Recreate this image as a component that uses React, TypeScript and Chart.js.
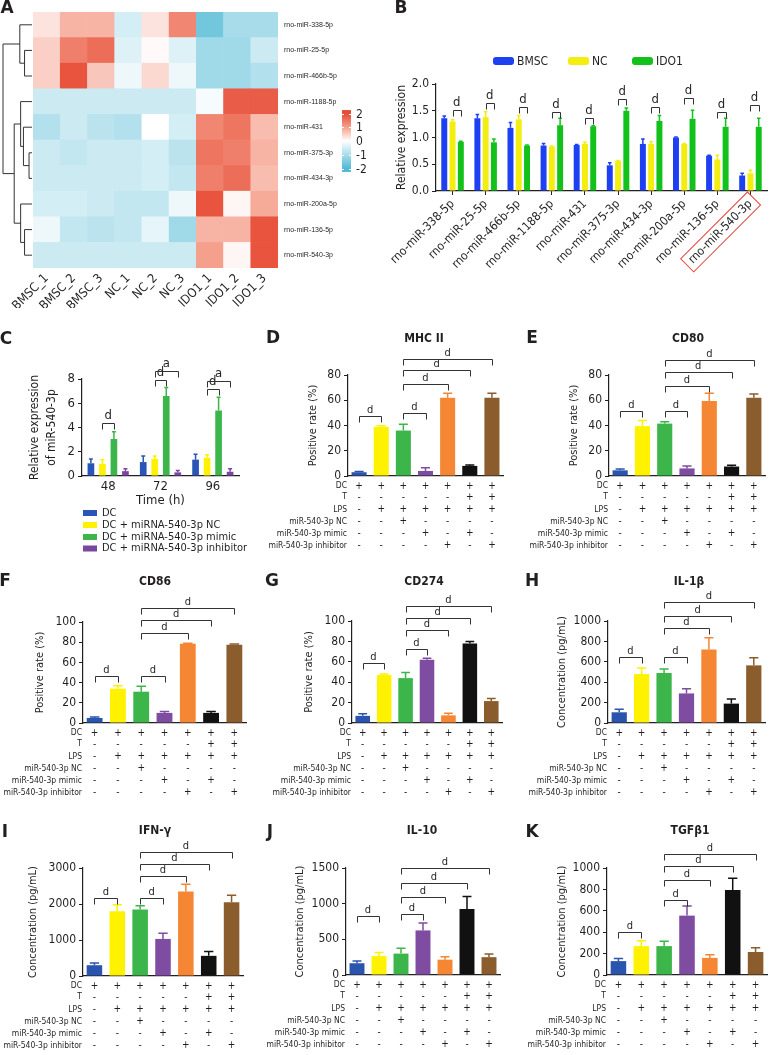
import React, { useEffect, useRef } from "react";
import { Chart, registerables } from "chart.js";

Chart.register(...registerables);

const PAGE_W = 771;
const PAGE_H = 1055;
const FONT = '"DejaVu Sans Condensed", "DejaVu Sans", sans-serif';
const ARIAL = '"Liberation Sans", Arial, sans-serif';
const TEXT = "#231f20";
const AXIS = "#231f20";

// ---------------- Panel A: heatmap ----------------
const heatSamples = ["BMSC_1", "BMSC_2", "BMSC_3", "NC_1", "NC_2", "NC_3", "IDO1_1", "IDO1_2", "IDO1_3"];
const heatMirnas = [
  "rno-miR-338-5p", "rno-miR-25-5p", "rno-miR-466b-5p", "rno-miR-1188-5p", "rno-miR-431",
  "rno-miR-375-3p", "rno-miR-434-3p", "rno-miR-200a-5p", "rno-miR-136-5p", "rno-miR-540-3p",
];
const heat338 = [0.3, 0.8, 0.8, -0.5, 0.3, 1.3, -1.6, -1.0, -1.0];
const heat25 = [0.5, 1.4, 1.6, -0.4, 0.05, -0.4, -1.1, -1.1, -0.6];
const heat466b = [0.5, 1.9, 0.6, -0.2, 0.4, -0.2, -1.1, -1.1, -0.9];
const heat1188 = [-0.6, -0.6, -0.6, -0.6, -0.6, -0.6, -0.1, 1.8, 1.8];
const heat431 = [-0.9, -0.6, -0.8, -0.9, 0.0, -0.5, 1.3, 1.5, 0.7];
const heat375 = [-0.6, -0.7, -0.6, -0.6, -0.5, -0.8, 1.5, 1.4, 0.8];
const heat434 = [-0.6, -0.6, -0.6, -0.6, -0.5, -0.7, 1.4, 1.6, 0.7];
const heat200a = [-0.5, -0.5, -0.6, -0.7, -0.7, -0.2, 1.9, 0.1, 0.9];
const heat136 = [-0.2, -0.7, -0.8, -0.7, -0.3, -1.1, 0.8, 0.8, 1.9];
const heat540 = [-0.6, -0.6, -0.6, -0.6, -0.6, -0.6, 1.0, 0.1, 1.9];
const heatRowsZ = [heat338, heat25, heat466b, heat1188, heat431, heat375, heat434, heat200a, heat136, heat540];
// hierarchical clustering merges: [childA, childB, height]; leaves 0..9, new nodes from 10
const dendroMerges: [number, number, number][] = [
  [1, 2, 0.23],
  [0, 10, 0.4],
  [5, 6, 0.07],
  [4, 12, 0.27],
  [3, 13, 0.37],
  [8, 9, 0.23],
  [7, 15, 0.37],
  [14, 16, 0.6],
  [11, 17, 1.0],
];
const colorbarTicks = [2, 1, 0, -1, -2];
const HEAT_CELL = 1;

// ---------------- Panel B ----------------
const bCategories = [
  "rno-miR-338-5p", "rno-miR-25-5p", "rno-miR-466b-5p", "rno-miR-1188-5p", "rno-miR-431",
  "rno-miR-375-3p", "rno-miR-434-3p", "rno-miR-200a-5p", "rno-miR-136-5p", "rno-miR-540-3p",
];
const bSeriesNames = ["BMSC", "NC", "IDO1"];
const bBMSC = [1.36, 1.36, 1.18, 0.85, 0.86, 0.48, 0.88, 1.0, 0.66, 0.29];
const bBMSCErr = [0.04, 0.07, 0.1, 0.04, 0.01, 0.05, 0.09, 0.01, 0.01, 0.04];
const bNC = [1.3, 1.38, 1.34, 0.83, 0.88, 0.56, 0.88, 0.88, 0.59, 0.33];
const bNCErr = [0.03, 0.1, 0.07, 0.01, 0.03, 0.01, 0.04, 0.01, 0.08, 0.06];
const bIDO1 = [0.92, 0.91, 0.85, 1.23, 1.21, 1.5, 1.31, 1.35, 1.2, 1.2];
const bIDO1Err = [0.01, 0.06, 0.01, 0.13, 0.01, 0.05, 0.1, 0.16, 0.16, 0.16];
const bSigHeights = [1.51, 1.64, 1.57, 1.48, 1.36, 1.72, 1.57, 1.74, 1.48, 1.6];
const bSigLabel = "d";

// ---------------- Panel C ----------------
const cTimes = ["48", "72", "96"];
const cSeriesNames = ["DC", "DC + miRNA-540-3p NC", "DC + miRNA-540-3p mimic", "DC + miRNA-540-3p inhibitor"];
const cDC = [1.05, 1.15, 1.35];
const cDCErr = [0.35, 0.5, 0.45];
const cNC = [1.0, 1.4, 1.5];
const cNCErr = [0.35, 0.25, 0.25];
const cMimic = [3.05, 6.6, 5.4];
const cMimicErr = [0.6, 0.7, 1.1];
const cInhibitor = [0.4, 0.3, 0.35];
const cInhibitorErr = [0.2, 0.15, 0.25];
// [group, seriesA, seriesB, height, label]
const cBrackets: [number, number, number, number, string][] = [
  [0, 1, 2, 4.4, "d"],
  [1, 1, 2, 7.9, "d"],
  [1, 1, 3, 8.7, "a"],
  [2, 1, 2, 7.2, "d"],
  [2, 1, 3, 7.85, "a"],
];

// ---------------- Panels D-K ----------------
const treatmentRows = ["DC", "T", "LPS", "miR-540-3p NC", "miR-540-3p mimic", "miR-540-3p inhibitor"];
const treatDC = ["+", "+", "+", "+", "+", "+", "+"];
const treatT = ["-", "-", "-", "-", "-", "+", "+"];
const treatLPS = ["-", "+", "+", "+", "+", "+", "+"];
const treatNC = ["-", "-", "+", "-", "-", "-", "-"];
const treatMimic = ["-", "-", "-", "+", "-", "+", "-"];
const treatInhibitor = ["-", "-", "-", "-", "+", "-", "+"];
const treatmentTable = [treatDC, treatT, treatLPS, treatNC, treatMimic, treatInhibitor];
const groupIds = ["g1", "g2", "g3", "g4", "g5", "g6", "g7"];

const mhcII = [3, 39, 36, 4, 62, 8, 62];
const mhcIIErr = [0.6, 0.8, 5, 2.5, 3.5, 0.8, 3.5];
const mhcIIBrackets: [number, number, number][] = [[0, 1, 47.5], [2, 3, 50], [2, 4, 72.5], [2, 5, 84], [2, 6, 93]];

const cd80 = [4.5, 39.5, 41.5, 6, 59.5, 7.5, 62];
const cd80Err = [1, 4.5, 1.5, 2, 6, 1, 3];
const cd80Brackets: [number, number, number][] = [[0, 1, 51.7], [2, 3, 51.7], [2, 4, 71], [2, 5, 82], [2, 6, 92]];

const cd86 = [5, 34, 31, 10, 78.5, 10, 77.5];
const cd86Err = [1, 3, 5.5, 1.5, 0.5, 1.5, 0.8];
const cd86Brackets: [number, number, number][] = [[0, 1, 46.5], [2, 3, 46.5], [2, 4, 89], [2, 5, 101.6], [2, 6, 114]];

const cd274 = [7, 47, 44, 62, 7.5, 78, 21.5];
const cd274Err = [2, 1, 5.5, 1.5, 2, 2, 2.5];
const cd274Brackets: [number, number, number][] = [[0, 1, 59.3], [2, 3, 73], [2, 4, 91], [2, 5, 103], [2, 6, 114.7]];

const il1b = [105, 480, 490, 290, 720, 190, 565];
const il1bErr = [30, 60, 40, 45, 115, 45, 75];
const il1bBrackets: [number, number, number][] = [[0, 1, 643], [2, 3, 643], [2, 4, 928], [2, 5, 1052], [2, 6, 1184]];

const ifng = [300, 1800, 1850, 1030, 2350, 560, 2050];
const ifngErr = [60, 180, 100, 160, 200, 120, 190];
const ifngBrackets: [number, number, number][] = [[0, 1, 2180], [2, 3, 2180], [2, 4, 2768], [2, 5, 3113], [2, 6, 3448]];

const il10 = [165, 265, 300, 625, 215, 925, 250];
const il10Err = [30, 50, 75, 105, 40, 175, 45];
const il10Brackets: [number, number, number][] = [[0, 1, 834], [2, 3, 858], [2, 4, 1092], [2, 5, 1289], [2, 6, 1500]];

const tgfb1 = [130, 270, 270, 555, 160, 795, 215];
const tgfb1Err = [25, 50, 45, 90, 30, 110, 40];
const tgfb1Brackets: [number, number, number][] = [[0, 1, 400], [2, 3, 703], [2, 4, 890], [2, 5, 1016], [2, 6, 1134]];

// ---------------- Styles ----------------
const groupColors = ["#2a55ae", "#fff200", "#3cb64a", "#7e4ca0", "#f58634", "#111111", "#8b5d2c"];
const bColors = ["#1c40f2", "#f3ee10", "#12c21b"];
const cColors = ["#2a55b6", "#fff200", "#3cb64a", "#7a47a0"];
const tableOffsets = [10, 21, 33.5, 45.5, 57.5, 69.5];

type Box = { left: number; right: number; top: number; bottom: number; yTitleX: number; letter: [number, number]; title: [number, number] };
type BarPanel = {
  letter: string; title: string; yTitle: string; values: number[]; errors: number[];
  brackets: [number, number, number][]; max: number; step: number; box: Box;
};

const barPanels: BarPanel[] = [
  { letter: "D", title: "MHC II", yTitle: "Positive rate (%)", values: mhcII, errors: mhcIIErr, brackets: mhcIIBrackets, max: 80, step: 20,
    box: { left: 348, right: 503, top: 375, bottom: 476, yTitleX: 313, letter: [273, 339], title: [424, 339] } },
  { letter: "E", title: "CD80", yTitle: "Positive rate (%)", values: cd80, errors: cd80Err, brackets: cd80Brackets, max: 80, step: 20,
    box: { left: 609, right: 765, top: 375, bottom: 476, yTitleX: 574, letter: [532, 339], title: [688, 339] } },
  { letter: "F", title: "CD86", yTitle: "Positive rate (%)", values: cd86, errors: cd86Err, brackets: cd86Brackets, max: 100, step: 20,
    box: { left: 83, right: 246, top: 622, bottom: 723, yTitleX: 40, letter: [5, 582], title: [155, 582] } },
  { letter: "G", title: "CD274", yTitle: "Positive rate (%)", values: cd274, errors: cd274Err, brackets: cd274Brackets, max: 100, step: 20,
    box: { left: 352, right: 502, top: 621, bottom: 723, yTitleX: 309, letter: [272, 582], title: [424, 582] } },
  { letter: "H", title: "IL-1β", yTitle: "Concentration (pg/mL)", values: il1b, errors: il1bErr, brackets: il1bBrackets, max: 1000, step: 200,
    box: { left: 608, right: 765, top: 621, bottom: 723, yTitleX: 562, letter: [532, 582], title: [689, 582] } },
  { letter: "I", title: "IFN-γ", yTitle: "Concentration (pg/mL)", values: ifng, errors: ifngErr, brackets: ifngBrackets, max: 3000, step: 1000,
    box: { left: 83, right: 243, top: 868, bottom: 976, yTitleX: 33, letter: [5, 833], title: [155, 831] } },
  { letter: "J", title: "IL-10", yTitle: "Concentration (pg/mL)", values: il10, errors: il10Err, brackets: il10Brackets, max: 1500, step: 500,
    box: { left: 346, right: 500, top: 868, bottom: 975, yTitleX: 300, letter: [270, 833], title: [422, 831] } },
  { letter: "K", title: "TGFβ1", yTitle: "Concentration (pg/mL)", values: tgfb1, errors: tgfb1Err, brackets: tgfb1Brackets, max: 1000, step: 200,
    box: { left: 607, right: 767, top: 868, bottom: 975, yTitleX: 562, letter: [532, 833], title: [690, 831] } },
];

// ---------------- helpers ----------------
function hexToRgb(h: string) {
  const n = parseInt(h.slice(1), 16);
  return [(n >> 16) & 255, (n >> 8) & 255, n & 255];
}
const heatStops: [number, string][] = [[-2, "#4fb9d5"], [-1, "#a9dcea"], [0, "#ffffff"], [1, "#f5a08d"], [2, "#e64b35"]];
function heatColor(v: number) {
  const c = Math.max(-2, Math.min(2, v));
  for (let i = 0; i < heatStops.length - 1; i++) {
    const [a, ca] = heatStops[i];
    const [b, cb] = heatStops[i + 1];
    if (c >= a && c <= b) {
      const t = (c - a) / (b - a);
      const ra = hexToRgb(ca), rb = hexToRgb(cb);
      const r = ra.map((x, k) => Math.round(x + (rb[k] - x) * t));
      return `rgb(${r[0]},${r[1]},${r[2]})`;
    }
  }
  return "#fff";
}

function drawLetter(ctx: CanvasRenderingContext2D, s: string, x: number, y: number) {
  ctx.save();
  ctx.fillStyle = TEXT;
  ctx.font = `bold 17px "DejaVu Sans", sans-serif`;
  ctx.textAlign = "center";
  ctx.textBaseline = "middle";
  ctx.fillText(s, x, y);
  ctx.restore();
}

function drawBracket(ctx: CanvasRenderingContext2D, x1: number, x2: number, y: number, label: string, fs = 11, leg = 6) {
  const yy = Math.round(y) + 0.5;
  ctx.save();
  ctx.strokeStyle = "#333";
  ctx.lineWidth = 1;
  ctx.beginPath();
  ctx.moveTo(Math.round(x1) + 0.5, yy + leg);
  ctx.lineTo(Math.round(x1) + 0.5, yy);
  ctx.lineTo(Math.round(x2) + 0.5, yy);
  ctx.lineTo(Math.round(x2) + 0.5, yy + leg);
  ctx.stroke();
  ctx.fillStyle = TEXT;
  ctx.font = `${fs}px ${FONT}`;
  ctx.textAlign = "center";
  ctx.textBaseline = "bottom";
  ctx.fillText(label, (x1 + x2) / 2, yy - 1);
  ctx.restore();
}

function errorBarsPlugin(errs: number[][]) {
  return {
    id: "errbars",
    afterDatasetsDraw(chart: any) {
      const ctx = chart.ctx as CanvasRenderingContext2D;
      const ys = chart.scales.y;
      errs.forEach((list, di) => {
        const meta = chart.getDatasetMeta(di);
        const ds = chart.data.datasets[di];
        meta.data.forEach((el: any, i: number) => {
          const e = list[i];
          if (!e) return;
          const v = ds.data[i] as number;
          const top = ys.getPixelForValue(v + e);
          const col = Array.isArray(ds.backgroundColor) ? ds.backgroundColor[i] : ds.backgroundColor;
          const hw = el.width * 0.3;
          ctx.save();
          ctx.strokeStyle = col;
          ctx.lineWidth = 1.5;
          ctx.beginPath();
          ctx.moveTo(el.x, el.y);
          ctx.lineTo(el.x, top);
          ctx.moveTo(el.x - hw, top);
          ctx.lineTo(el.x + hw, top);
          ctx.stroke();
          ctx.restore();
        });
      });
    },
  };
}

const plainTick = (v: any) => String(v);

const baseOptions = {
  responsive: false,
  maintainAspectRatio: false,
  animation: false as const,
  events: [] as any[],
  plugins: { legend: { display: false }, tooltip: { enabled: false }, title: { display: false } },
};

// ---------------- chart configs ----------------
function heatmapConfig(): any {
  const left = 33, right = 278, top = 12, bottom = 268;
  const xAxisH = 40;
  const datasets = heatMirnas
    .map((name, r) => ({
      label: name,
      data: heatSamples.map(() => HEAT_CELL),
      backgroundColor: heatRowsZ[r].map(heatColor),
      borderWidth: 0,
      barPercentage: 1,
      categoryPercentage: 1,
    }))
    .reverse();
  const deco = {
    id: "heatDeco",
    afterDraw(chart: any) {
      const ctx = chart.ctx as CanvasRenderingContext2D;
      const rows = chart.scales.rows;
      const ca = chart.chartArea;
      // row labels
      ctx.save();
      ctx.fillStyle = TEXT;
      ctx.font = `7px ${ARIAL}`;
      ctx.textAlign = "left";
      ctx.textBaseline = "middle";
      heatMirnas.forEach((m, i) => ctx.fillText(m, ca.right + 6, rows.getPixelForTick(i)));
      ctx.restore();
      // dendrogram
      const leafX = ca.left - 1;
      const hToX = (h: number) => ca.left - 2 - h * 28;
      const pos: { x: number; y: number }[] = heatMirnas.map((_, i) => ({ x: leafX, y: rows.getPixelForTick(i) }));
      ctx.save();
      ctx.strokeStyle = "#333";
      ctx.lineWidth = 1;
      ctx.beginPath();
      dendroMerges.forEach(([a, b, h]) => {
        const x = hToX(h);
        const pa = pos[a], pb = pos[b];
        ctx.moveTo(pa.x, pa.y);
        ctx.lineTo(x, pa.y);
        ctx.lineTo(x, pb.y);
        ctx.lineTo(pb.x, pb.y);
        pos.push({ x, y: (pa.y + pb.y) / 2 });
      });
      ctx.stroke();
      ctx.restore();
      // colorbar
      const cbX = 342, cbW = 9, cbMid = 141, perUnit = 13.75;
      const cbTop = cbMid - 2.25 * perUnit, cbBot = cbMid + 2.25 * perUnit;
      const g = ctx.createLinearGradient(0, cbTop, 0, cbBot);
      for (let k = 0; k <= 20; k++) {
        const v = 2.25 - (4.5 * k) / 20;
        g.addColorStop(k / 20, heatColor(v));
      }
      ctx.save();
      ctx.fillStyle = g;
      ctx.fillRect(cbX, cbTop, cbW, cbBot - cbTop);
      ctx.strokeStyle = "#fff";
      ctx.lineWidth = 1;
      ctx.fillStyle = TEXT;
      ctx.font = `12px ${FONT}`;
      ctx.textAlign = "left";
      ctx.textBaseline = "middle";
      colorbarTicks.forEach((t) => {
        const y = Math.round(cbMid - t * perUnit) + 0.5;
        ctx.beginPath();
        ctx.moveTo(cbX, y);
        ctx.lineTo(cbX + 2, y);
        ctx.moveTo(cbX + cbW - 2, y);
        ctx.lineTo(cbX + cbW, y);
        ctx.stroke();
        ctx.fillText(String(t), cbX + cbW + 5, y);
      });
      ctx.restore();
      drawLetter(ctx, "A", 7, 9);
    },
  };
  return {
    type: "bar",
    data: { labels: heatSamples, datasets },
    options: {
      ...baseOptions,
      layout: { padding: { left, right: PAGE_W - right, top, bottom: PAGE_H - bottom - xAxisH } },
      scales: {
        x: {
          stacked: true,
          grid: { display: false, drawTicks: false },
          border: { display: false },
          ticks: { font: { family: FONT, size: 12.5 }, color: TEXT, minRotation: 45, maxRotation: 45, padding: 3, autoSkip: false },
          afterFit: (s: any) => { s.height = xAxisH; },
        },
        y: { stacked: true, display: false, min: 0, max: heatMirnas.length * HEAT_CELL },
        rows: {
          type: "category",
          labels: heatMirnas,
          position: "right",
          offset: true,
          grid: { display: false, drawTicks: false },
          border: { display: false },
          ticks: { display: false },
          afterFit: (s: any) => { s.width = 0; },
        },
      },
    },
    plugins: [deco],
  };
}

function bConfig(): any {
  const left = 436, right = 767, top = 84, bottom = 191;
  const yTitleX = 402;
  const yW = left - yTitleX + 7;
  const xAxisH = 80;
  const series = [bBMSC, bNC, bIDO1];
  const errs = [bBMSCErr, bNCErr, bIDO1Err];
  const datasets = series.map((d, i) => ({
    label: bSeriesNames[i],
    data: d,
    backgroundColor: bColors[i],
    barPercentage: 0.72,
    categoryPercentage: 0.75,
  }));
  const deco = {
    id: "bDeco",
    afterDraw(chart: any) {
      const ctx = chart.ctx as CanvasRenderingContext2D;
      const ys = chart.scales.y;
      const m1 = chart.getDatasetMeta(1), m2 = chart.getDatasetMeta(2);
      bSigHeights.forEach((h, i) => {
        drawBracket(ctx, m1.data[i].x, m2.data[i].x, ys.getPixelForValue(h), bSigLabel, 13, 6);
      });
      // legend
      const legX = [493, 568, 632];
      ctx.save();
      bSeriesNames.forEach((n, i) => {
        ctx.fillStyle = bColors[i];
        ctx.beginPath();
        (ctx as any).roundRect(legX[i], 57, 21, 8, 3);
        ctx.fill();
        ctx.fillStyle = TEXT;
        ctx.font = `12px ${FONT}`;
        ctx.textAlign = "left";
        ctx.textBaseline = "middle";
        ctx.fillText(n, legX[i] + 24, 61.5);
      });
      ctx.restore();
      // red box around the last category label
      const xs = chart.scales.x;
      const items = xs.getLabelItems ? xs.getLabelItems() : [];
      const it = items[items.length - 1];
      if (it) {
        const o = it.options;
        ctx.save();
        ctx.translate(o.translation[0], o.translation[1]);
        ctx.rotate(o.rotation);
        ctx.font = it.font.string;
        const w = ctx.measureText(String(it.label)).width;
        const hgt = it.font.lineHeight;
        let y0 = it.textOffset;
        if (o.textBaseline === "middle") y0 -= hgt / 2;
        else if (o.textBaseline === "bottom" || o.textBaseline === "alphabetic") y0 -= hgt;
        ctx.strokeStyle = "#e8433a";
        ctx.lineWidth = 1;
        ctx.strokeRect(-w - 5, y0 - 2, w + 10, hgt + 4);
        ctx.restore();
      }
      drawLetter(ctx, "B", 401, 9);
    },
  };
  return {
    type: "bar",
    data: { labels: bCategories, datasets },
    options: {
      ...baseOptions,
      layout: { padding: { left: left - yW, right: PAGE_W - right, top, bottom: PAGE_H - bottom - xAxisH } },
      scales: {
        x: {
          grid: { display: true, drawOnChartArea: false, drawTicks: true, tickLength: 4, offset: false, color: AXIS },
          border: { display: true, color: AXIS, width: 1.2 },
          ticks: { font: { family: FONT, size: 12 }, color: TEXT, minRotation: 45, maxRotation: 45, padding: 2, autoSkip: false },
          afterFit: (s: any) => { s.height = xAxisH; },
        },
        y: {
          min: 0, max: 2,
          ticks: { stepSize: 0.5, font: { family: FONT, size: 12 }, color: TEXT, padding: 3, callback: (v: any) => Number(v).toFixed(1) },
          grid: { drawOnChartArea: false, drawTicks: true, tickLength: 4, color: AXIS },
          border: { display: true, color: AXIS, width: 1.2 },
          title: { display: true, text: "Relative expression", font: { family: FONT, size: 12 }, color: TEXT, padding: 0 },
          afterFit: (s: any) => { s.width = yW; },
        },
      },
    },
    plugins: [errorBarsPlugin(errs), deco],
  };
}

function cConfig(): any {
  const left = 82, right = 239, top = 379, bottom = 476;
  const xAxisH = 32;
  const titleFont = { family: FONT, size: 12, lineHeight: 1.4 };
  const yW = left - (35 - 8.4);
  const series = [cDC, cNC, cMimic, cInhibitor];
  const errs = [cDCErr, cNCErr, cMimicErr, cInhibitorErr];
  const datasets = series.map((d, i) => ({
    label: cSeriesNames[i],
    data: d,
    backgroundColor: cColors[i],
    barPercentage: 0.58,
    categoryPercentage: 0.88,
  }));
  const deco = {
    id: "cDeco",
    afterDraw(chart: any) {
      const ctx = chart.ctx as CanvasRenderingContext2D;
      const ys = chart.scales.y;
      cBrackets.forEach(([g, a, b, h, lab]) => {
        const xa = chart.getDatasetMeta(a).data[g].x;
        const xb = chart.getDatasetMeta(b).data[g].x;
        drawBracket(ctx, xa, xb, ys.getPixelForValue(h), lab, 13, 6);
      });
      // legend
      const ly = [513, 525, 537, 548.5];
      ctx.save();
      cSeriesNames.forEach((n, i) => {
        ctx.fillStyle = cColors[i];
        ctx.fillRect(83, ly[i] - 3, 14, 6);
        ctx.fillStyle = TEXT;
        ctx.font = `11px ${FONT}`;
        ctx.textAlign = "left";
        ctx.textBaseline = "middle";
        ctx.fillText(n, 102, ly[i]);
      });
      ctx.restore();
      drawLetter(ctx, "C", 6, 340);
    },
  };
  return {
    type: "bar",
    data: { labels: cTimes, datasets },
    options: {
      ...baseOptions,
      layout: { padding: { left: left - yW, right: PAGE_W - right, top, bottom: PAGE_H - bottom - xAxisH } },
      scales: {
        x: {
          grid: { display: false, drawTicks: false },
          border: { display: true, color: AXIS, width: 1.2 },
          ticks: { font: { family: FONT, size: 13 }, color: TEXT, padding: 3 },
          title: { display: true, text: "Time (h)", font: { family: FONT, size: 13 }, color: TEXT, padding: 0 },
          afterFit: (s: any) => { s.height = xAxisH; },
        },
        y: {
          min: 0, max: 8,
          ticks: { stepSize: 2, font: { family: FONT, size: 13 }, color: TEXT, padding: 3, callback: plainTick },
          grid: { drawOnChartArea: false, drawTicks: true, tickLength: 4, color: AXIS },
          border: { display: true, color: AXIS, width: 1.2 },
          title: { display: true, text: ["Relative expression", "of miR-540-3p"], font: titleFont, color: TEXT, padding: 0 },
          afterFit: (s: any) => { s.width = yW; },
        },
      },
    },
    plugins: [errorBarsPlugin(errs), deco],
  };
}

function barPanelConfig(p: BarPanel): any {
  const b = p.box;
  const yW = b.left - b.yTitleX + 6;
  const deco = {
    id: "panelDeco",
    afterDraw(chart: any) {
      const ctx = chart.ctx as CanvasRenderingContext2D;
      const ys = chart.scales.y;
      const meta = chart.getDatasetMeta(0);
      p.brackets.forEach(([i, j, h]) => {
        drawBracket(ctx, meta.data[i].x, meta.data[j].x, ys.getPixelForValue(h), "d", 11, 6);
      });
      const ca = chart.chartArea;
      ctx.save();
      ctx.fillStyle = TEXT;
      ctx.textBaseline = "middle";
      treatmentRows.forEach((row, r) => {
        const y = ca.bottom + tableOffsets[r];
        ctx.font = `8.5px ${FONT}`;
        ctx.textAlign = "right";
        ctx.fillText(row, ca.left - 1, y);
        ctx.font = `10px ${FONT}`;
        ctx.textAlign = "center";
        treatmentTable[r].forEach((s, k) => {
          ctx.fillText(s, meta.data[k].x, y);
        });
      });
      ctx.font = `bold 12px ${FONT}`;
      ctx.textAlign = "center";
      ctx.fillText(p.title, b.title[0], b.title[1]);
      ctx.restore();
      drawLetter(ctx, p.letter, b.letter[0], b.letter[1]);
    },
  };
  return {
    type: "bar",
    data: {
      labels: groupIds,
      datasets: [{ label: p.title, data: p.values, backgroundColor: groupColors, barPercentage: 0.68, categoryPercentage: 1 }],
    },
    options: {
      ...baseOptions,
      layout: { padding: { left: b.left - yW, right: PAGE_W - b.right, top: b.top, bottom: PAGE_H - b.bottom } },
      scales: {
        x: {
          grid: { display: false, drawTicks: false },
          border: { display: true, color: AXIS, width: 1.2 },
          ticks: { display: false },
          afterFit: (s: any) => { s.height = 0; },
        },
        y: {
          min: 0, max: p.max,
          ticks: { stepSize: p.step, font: { family: FONT, size: 12 }, color: TEXT, padding: 3, callback: plainTick },
          grid: { drawOnChartArea: false, drawTicks: true, tickLength: 4, color: AXIS },
          border: { display: true, color: AXIS, width: 1.2 },
          title: { display: true, text: p.yTitle, font: { family: FONT, size: 11 }, color: TEXT, padding: 0 },
          afterFit: (s: any) => { s.width = yW; },
        },
      },
    },
    plugins: [errorBarsPlugin([p.errors]), deco],
  };
}

export default function App() {
  const refs = useRef<(HTMLCanvasElement | null)[]>([]);
  const count = 3 + barPanels.length;
  useEffect(() => {
    document.body.style.margin = "0";
    const configs = [heatmapConfig(), bConfig(), cConfig(), ...barPanels.map(barPanelConfig)];
    const charts = configs.map((cfg, i) => new Chart(refs.current[i] as HTMLCanvasElement, cfg));
    return () => charts.forEach((c) => c.destroy());
  }, []);
  return (
    <div style={{ position: "relative", width: PAGE_W, height: PAGE_H, background: "#fff", overflow: "hidden" }}>
      {Array.from({ length: count }).map((_, i) => (
        <canvas
          key={i}
          ref={(el) => { refs.current[i] = el; }}
          width={PAGE_W}
          height={PAGE_H}
          style={{ position: "absolute", left: 0, top: 0, width: PAGE_W, height: PAGE_H, pointerEvents: "none" }}
        />
      ))}
    </div>
  );
}
